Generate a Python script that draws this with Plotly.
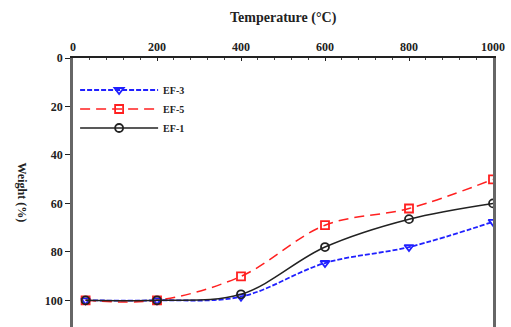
import plotly.graph_objects as go

temps = [30, 200, 400, 600, 800, 1000]
ef3 = [100, 100, 98.5, 84.6, 78.0, 67.6]
ef5 = [100, 100, 90.1, 69.0, 62.1, 50.1]
ef1 = [100, 100, 97.5, 78.0, 66.5, 60.0]

x_ticks = [0, 200, 400, 600, 800, 1000]
y_ticks = [0, 20, 40, 60, 80, 100]

FONT = "Liberation Serif"

fig = go.Figure()
fig.add_trace(go.Scatter(
    x=temps, y=ef3, name="EF-3", mode="lines+markers",
    line=dict(color="#2020ff", width=1.8, dash="5px,2px", shape="spline"),
    marker=dict(symbol="triangle-down-open", size=8, color="#2020ff", line=dict(width=1.8))))
fig.add_trace(go.Scatter(
    x=temps, y=ef5, name="EF-5", mode="lines+markers",
    line=dict(color="#ff2020", width=1.5, dash="10px,6px", shape="spline"),
    marker=dict(symbol="square-open", size=8, color="#ff2020", line=dict(width=1.8))))
fig.add_trace(go.Scatter(
    x=temps, y=ef1, name="EF-1", mode="lines+markers",
    line=dict(color="#222222", width=1.5, shape="spline"),
    marker=dict(symbol="circle-open", size=8, color="#222222", line=dict(width=1.8))))

fig.update_layout(
    width=511, height=327,
    margin=dict(l=73, r=18, t=58, b=0),
    paper_bgcolor="white", plot_bgcolor="white",
    font=dict(family=FONT, size=12, color="#222222", weight="bold"),
    showlegend=True,
    legend=dict(x=0.005, y=0.935, xanchor="left", yanchor="top",
                bgcolor="rgba(0,0,0,0)", font=dict(size=10, family=FONT, weight="bold"),
                tracegroupgap=0, itemwidth=78),
    xaxis=dict(side="top", range=[0, 1000], tickvals=x_ticks,
               ticktext=[str(v) for v in x_ticks],
               showgrid=False, zeroline=False,
               showline=True, linecolor="#222222", linewidth=1.5,
               ticks="inside", ticklen=3, tickcolor="#222222",
               minor=dict(dtick=40, ticks="inside", ticklen=2, tickcolor="#444444"),
               tickfont=dict(size=12)),
    yaxis=dict(range=[111, 0], tickvals=y_ticks,
               ticktext=[str(v) for v in y_ticks],
               showgrid=False, zeroline=False,
               showline=True, linecolor="#666666", linewidth=2.5, mirror=True,
               ticks="outside", ticklen=5, tickcolor="#222222",
               tickfont=dict(size=12)),
)
fig.add_annotation(text="Temperature (°C)", xref="paper", yref="paper",
                   x=0.5, y=1 + (58 - 18) / 269, xanchor="center", yanchor="middle",
                   showarrow=False, font=dict(size=14, family=FONT, weight="bold"))
fig.add_annotation(text="Weight (%)", xref="paper", yref="paper",
                   x=-(73 - 22) / 420, y=0.5, xanchor="center", yanchor="middle",
                   textangle=90, showarrow=False,
                   font=dict(size=12, family=FONT, weight="bold"))

fig.write_html("out.html")
